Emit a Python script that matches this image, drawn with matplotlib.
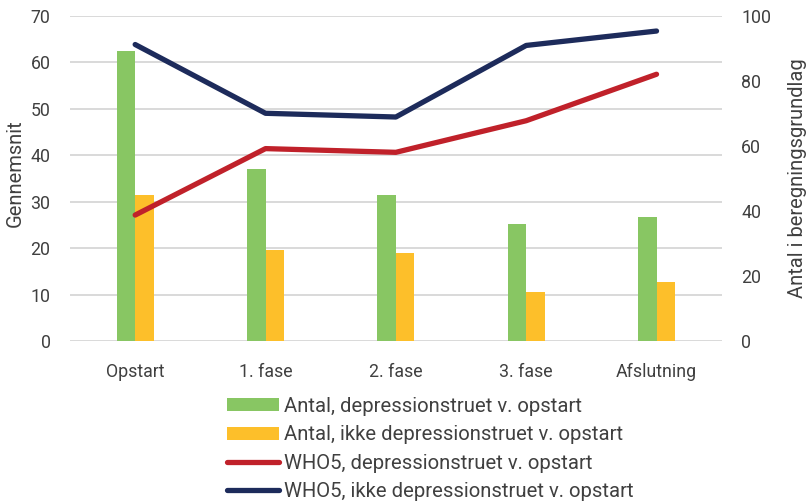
import numpy as np
import matplotlib
matplotlib.use("Agg")
import matplotlib.pyplot as plt

plt.rcParams['font.family'] = ['Roboto', 'DejaVu Sans']

categories = ["Opstart", "1. fase", "2. fase", "3. fase", "Afslutning"]
antal_depr = [89, 53, 45, 36, 38]
antal_ikke_depr = [45, 28, 27, 15, 18]
who5_depr = [27.1, 41.4, 40.6, 47.4, 57.4]
who5_ikke_depr = [63.8, 49.0, 48.2, 63.6, 66.7]

GREEN = "#88c663"
ORANGE = "#fdbf2a"
RED = "#c0212a"
NAVY = "#1d2b5b"
TXT = "#404040"
GRID = "#d9d9d9"

fig = plt.figure(figsize=(8.08, 5.04), dpi=100)
ax = fig.add_axes([70 / 808, 1 - 341 / 504, 651.7 / 808, 325.3 / 504])
ax2 = ax.twinx()

x = np.arange(len(categories))
w = 0.143

# grid on the left axis (drawn underneath), bars + lines on the twin
ax.set_ylim(0, 70)
ax.set_yticks(np.arange(0, 71, 10))
ax.grid(axis='y', color=GRID, linewidth=1.4)
ax.set_axisbelow(True)
ax2.set_ylim(0, 100)
ax2.set_yticks(np.arange(0, 101, 20))
ax.set_xlim(-0.5, len(categories) - 0.5)

b1 = ax2.bar(x - w / 2, antal_depr, w, color=GREEN, label="Antal, depressionstruet v. opstart")
b2 = ax2.bar(x + w / 2, antal_ikke_depr, w, color=ORANGE, label="Antal, ikke depressionstruet v. opstart")
l1, = ax2.plot(x, who5_depr, color=RED, lw=3.8, solid_capstyle='round',
               transform=ax.transData, label="WHO5, depressionstruet v. opstart")
l2, = ax2.plot(x, who5_ikke_depr, color=NAVY, lw=3.8, solid_capstyle='round',
               transform=ax.transData, label="WHO5, ikke depressionstruet v. opstart")
ax2.set_ylim(0, 100)

for a in (ax, ax2):
    for s in a.spines.values():
        s.set_visible(False)
    a.tick_params(length=0, labelsize=12.8, labelcolor=TXT)

ax.set_xticks(x)
ax.set_xticklabels(categories)
ax.tick_params(axis='x', pad=16)
ax.tick_params(axis='y', pad=14)
ax2.tick_params(axis='y', pad=14)

ax.set_ylabel("Gennemsnit", fontsize=14.5, color=TXT, va='center')
ax.yaxis.set_label_coords(-0.084, 0.516)
ax2.set_ylabel("Antal i beregningsgrundlag", fontsize=14.5, color=TXT, va='center')
ax2.yaxis.set_label_coords(1.1156, 0.50)

fig.legend(handles=[b1, b2, l1, l2], loc='upper left',
           bbox_to_anchor=(227 / 808, 1 - 397 / 504), frameon=False,
           fontsize=14.6, labelcolor=TXT, handlelength=2.56, handleheight=0.6,
           handletextpad=0.25, labelspacing=0.46, borderpad=0, borderaxespad=0)

fig.savefig("out.png", dpi=100)
